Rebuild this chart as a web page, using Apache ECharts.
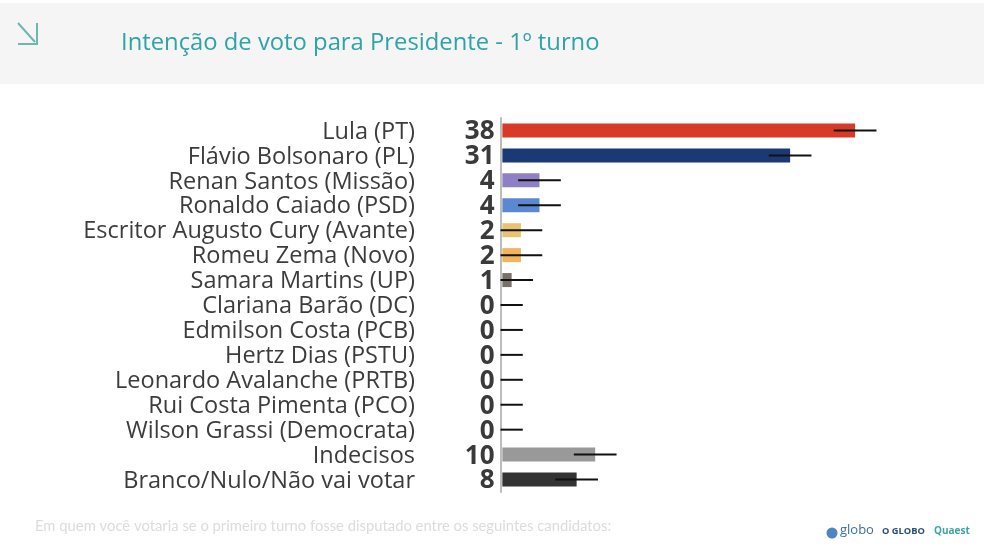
<!DOCTYPE html>
<html><head><meta charset="utf-8">
<script src="https://cdn.jsdelivr.net/npm/echarts@6/dist/echarts.min.js"></script>
<style>html,body{margin:0;padding:0;background:#fff}#c{width:984px;height:548px;filter:blur(0.5px)}</style>
</head><body><div id="c"></div>
<script>
const candidates = ["Lula (PT)","Flávio Bolsonaro (PL)","Renan Santos (Missão)","Ronaldo Caiado (PSD)","Escritor Augusto Cury (Avante)","Romeu Zema (Novo)","Samara Martins (UP)","Clariana Barão (DC)","Edmilson Costa (PCB)","Hertz Dias (PSTU)","Leonardo Avalanche (PRTB)","Rui Costa Pimenta (PCO)","Wilson Grassi (Democrata)","Indecisos","Branco/Nulo/Não vai votar"];
const values = [38,31,4,4,2,2,1,0,0,0,0,0,0,10,8];
const errorLow = [35.7,28.7,1.7,1.7,-0.2,-0.2,-0.2,-0.2,-0.2,-0.2,-0.2,-0.2,-0.2,7.7,5.7];
const errorHigh = [40.3,33.3,6.3,6.3,4.3,4.3,3.3,2.2,2.2,2.2,2.2,2.2,2.2,12.3,10.3];
const colors = ["#d93a27","#1b3a75","#8f7fc4","#5b88d0","#e9c46f","#f2b55c","#77716a","#999","#999","#999","#999","#999","#999","#999999","#333333"];
const title = "Intenção de voto para Presidente - 1º turno";
const footnote = "Em quem você votaria se o primeiro turno fosse disputado entre os seguintes candidatos:";

const chart = echarts.init(document.getElementById('c'));
const font = '"Open Sans", sans-serif';
chart.setOption({
  animation:false,
  backgroundColor:'#fff',
  title:{text:title,left:116,top:26,textStyle:{color:'#2fa3a6',fontSize:23.8,fontWeight:400,fontFamily:font}},
  grid:[
    {left:500.5,top:118,width:466,height:374,containLabel:false},
    {left:500.5,top:119.5,width:466,height:374,containLabel:false}
  ],
  xAxis:[
    {type:'value',gridIndex:0,min:-0.2,max:50,show:false},
    {type:'value',gridIndex:1,min:-0.2,max:50,show:false}
  ],
  yAxis:[
    {type:'category',gridIndex:0,inverse:true,data:candidates,position:'left',
     axisLine:{show:true,onZero:false,lineStyle:{color:'#bdbdbd',width:2}},axisTick:{show:false},axisLabel:{show:false}},
    {type:'category',gridIndex:1,inverse:true,data:candidates,position:'left',
     axisLine:{show:false,onZero:false},axisTick:{show:false},
     axisLabel:{interval:0,margin:85.5,fontSize:23.5,color:'#3c3c3c',fontFamily:font,align:'right'}},
    {type:'category',gridIndex:1,inverse:true,data:values.map(String),position:'left',
     axisLine:{show:false,onZero:false},axisTick:{show:false},
     axisLabel:{interval:0,margin:6,fontSize:26,fontWeight:700,color:'#3a3a3a',fontFamily:font,align:'right'}}
  ],
  series:[
    {type:'bar',xAxisIndex:0,yAxisIndex:0,barWidth:14,data:values.map((v,i)=>({value:v,itemStyle:{color:colors[i]}}))},
    {type:'custom',xAxisIndex:0,yAxisIndex:0,z:5,
     data:candidates.map((c,i)=>[errorLow[i],errorHigh[i],i]),
     encode:{x:[0,1],y:2},
     renderItem:(p,api)=>{
       const a=api.coord([api.value(0),api.value(2)]),b=api.coord([api.value(1),api.value(2)]);
       return {type:'line',shape:{x1:a[0],y1:a[1],x2:b[0],y2:b[1]},style:{stroke:'#111',lineWidth:2}};
     }}
  ],
  graphic:[
    {type:'rect',z:-10,shape:{x:0,y:3,width:984,height:81},style:{fill:'#f5f5f5'}},
    {type:'polyline',shape:{points:[[18,23],[35,42]]},style:{stroke:'#6fb5b0',lineWidth:2,fill:null}},
    {type:'polyline',shape:{points:[[37,23],[37,44],[18,44]]},style:{stroke:'#6fb5b0',lineWidth:2,fill:null}},
    {type:'text',x:35,y:519,style:{text:footnote,font:'14.8px Lato, sans-serif',fill:'#dcdcdc'}},
    {type:'circle',shape:{cx:832,cy:533,r:5.5},style:{fill:'#4d86c0'}},
    {type:'text',x:840,y:524,style:{text:'globo',font:'13px "Open Sans", sans-serif',fill:'#3a6ea5'}},
    {type:'text',x:882,y:527,style:{text:'O GLOBO',font:'bold 9.3px "Open Sans", sans-serif',fill:'#2a4d78'}},
    {type:'text',x:934,y:526,style:{text:'Quaest',font:'bold 10px "Open Sans", sans-serif',fill:'#3aa6a0'}}
  ]
});
</script></body></html>
